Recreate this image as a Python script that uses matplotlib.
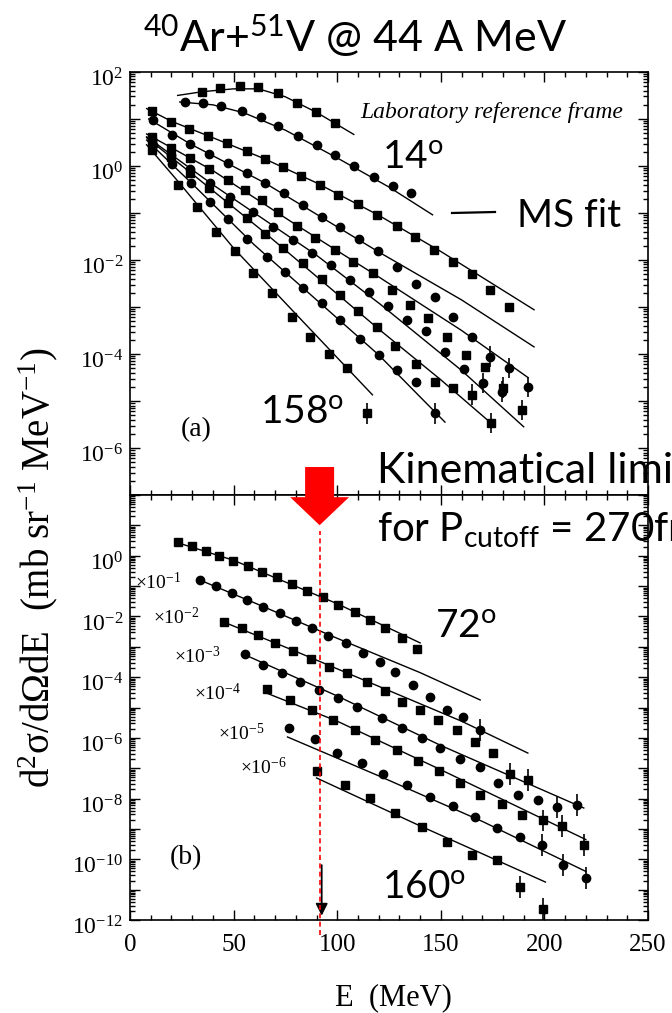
import numpy as np
import matplotlib
matplotlib.use("Agg")
import matplotlib.pyplot as plt
from matplotlib.ticker import LogLocator, MultipleLocator, FuncFormatter, NullFormatter
from matplotlib.patches import Polygon
from matplotlib.lines import Line2D
from matplotlib.transforms import blended_transform_factory, ScaledTranslation

# ---- panel (a): laboratory frame, values are log10(d2sigma/dOmega dE) ----
a1_E = [34.7, 43.4, 53.0, 61.8, 71.4, 80.6, 89.7, 98.9]
a1_y = [1.57, 1.66, 1.70, 1.68, 1.55, 1.34, 1.15, 0.92]
a1_fitE = [23, 35, 50, 62, 75, 90, 108]
a1_fity = [1.50, 1.58, 1.64, 1.64, 1.47, 1.14, 0.67]

a2_E = [26.5, 35.0, 44.0, 54.0, 63.0, 71.4, 81.0, 90.0, 99.0, 108.0, 117.6, 126.8, 135.6]
a2_y = [1.36, 1.34, 1.28, 1.17, 1.04, 0.85, 0.64, 0.45, 0.23, 0.0, -0.23, -0.43, -0.57]
a2_fitE = [24, 40, 55, 75, 100, 125, 146]
a2_fity = [1.36, 1.30, 1.13, 0.76, 0.17, -0.45, -1.04]

a3_E = [10.6, 19.8, 28.5, 37.6, 46.8, 56.5, 65.2, 73.8, 82.5, 91.7, 100.4, 110.0,
        119.2, 128.9, 137.5, 146.7, 155.9, 165.1, 173.7, 182.9]
a3_y = [1.17, 0.94, 0.79, 0.64, 0.49, 0.32, 0.15, -0.02, -0.21, -0.40, -0.62, -0.81,
        -1.04, -1.28, -1.51, -1.79, -2.04, -2.30, -2.64, -3.00]
a3_fitE = [8, 20, 40, 65, 90, 120, 150, 195]
a3_fity = [1.22, 0.95, 0.60, 0.15, -0.36, -1.05, -1.82, -3.06]

a4_E = [11.1, 20.3, 29.0, 38.1, 47.3, 56.5, 65.2, 74.3, 83.5, 92.7, 101.4, 110.5,
        119.7, 128.9, 138.0, 147.2, 155.9, 165.1, 173.7, 182.9, 192.1]
a4_y = [0.98, 0.66, 0.47, 0.26, 0.06, -0.15, -0.36, -0.57, -0.83, -1.09, -1.30, -1.55,
        -1.81, -2.15, -2.51, -2.79, -3.21, -3.64, -4.06, -4.30, -4.70]
a4_fitE = [9, 29, 65, 120, 160, 195]
a4_fity = [1.0, 0.47, -0.36, -1.83, -2.85, -3.85]

a5_E = [10.6, 19.8, 28.9, 38.0, 47.3, 55.5, 63.7, 71.4, 80.6, 89.3, 98.9, 107.6,
        117.3, 126.4, 135.1, 143.8, 153.0, 162.2, 171.3, 180.0, 189.2]
a5_y = [0.62, 0.38, 0.17, -0.06, -0.30, -0.51, -0.72, -0.98, -1.28, -1.53, -1.79, -2.04,
        -2.28, -2.64, -2.96, -3.23, -3.64, -4.02, -4.28, -4.72, -5.19]
a5_fitE = [8, 40, 80, 120, 160, 192]
a5_fity = [0.68, -0.10, -1.25, -2.36, -3.5, -4.5]

a6_E = [10.6, 19.8, 29.0, 38.6, 48.2, 59.4, 69.0, 78.7, 87.8, 97.0, 106.2, 115.3,
        124.5, 133.7, 142.9, 152.0, 161.2, 170.4, 179.5]
a6_y = [0.56, 0.24, -0.06, -0.37, -0.66, -0.99, -1.30, -1.57, -1.85, -2.10, -2.42, -2.68,
        -2.97, -3.28, -3.52, -3.95, -4.33, -4.62, -4.80]
a6_fitE = [8, 40, 90, 121, 160, 190]
a6_fity = [0.62, -0.40, -1.90, -2.95, -4.35, -5.55]

a7_E = [10.6, 19.8, 29.0, 38.1, 47.3, 56.5, 65.2, 73.8, 83.5, 92.7, 101.4, 110.0,
        119.2, 128.0, 138.0, 147.2, 156.0, 165.0, 174.0]
a7_y = [0.52, 0.20, -0.15, -0.47, -0.79, -1.11, -1.45, -1.75, -2.06, -2.40, -2.74, -3.09,
        -3.43, -3.83, -4.21, -4.60, -4.72, -4.87, -5.47]
a7_fitE = [8, 30, 65, 120, 150, 175]
a7_fity = [0.6, -0.17, -1.42, -3.47, -4.55, -5.5]

a8_E = [11.1, 20.3, 29.4, 38.6, 47.3, 56.5, 66.1, 74.8, 83.5, 92.7, 101.4, 111.0,
        120.2, 128.9, 138.0, 147.2]
a8_y = [0.45, 0.05, -0.36, -0.77, -1.13, -1.55, -1.94, -2.26, -2.60, -2.92, -3.28, -3.68,
        -4.02, -4.34, -4.60, -5.26]
a8_fitE = [8, 30, 60, 120, 152]
a8_fity = [0.55, -0.38, -1.68, -4.02, -5.45]

a9_E = [10.6, 23.2, 32.3, 41.5, 50.7, 59.4, 68.5, 78.2, 86.9, 96.0, 104.7, 114.4]
a9_y = [0.34, -0.40, -0.87, -1.40, -1.81, -2.28, -2.70, -3.21, -3.64, -4.00, -4.30, -5.26]
a9_fitE = [8, 23, 50, 80, 117]
a9_fity = [0.45, -0.32, -1.75, -3.15, -4.87]

# ---- panel (b): 72 deg ... 160 deg, scaled by 10^-n ----
b1_E = [23.2, 29.9, 36.7, 43.0, 49.7, 56.9, 63.7, 70.9, 78.2, 85.4, 93.1, 100.4,
        108.6, 115.8, 123.1, 131.3, 138.5]
b1_y = [0.45, 0.32, 0.16, -0.01, -0.17, -0.34, -0.54, -0.70, -0.93, -1.16, -1.36, -1.62,
        -1.85, -2.12, -2.38, -2.71, -3.07]
b1_fitE = [22, 50, 100, 140]
b1_fity = [0.45, -0.15, -1.58, -2.87]

b2_E = [33.8, 41.5, 49.2, 56.5, 64.2, 72.4, 80.1, 87.8, 95.6, 104.2, 112.5, 120.7,
        127.9, 136.6, 144.8, 153.0, 160.7, 168.9]
b2_y = [-0.80, -1.00, -1.23, -1.46, -1.69, -1.89, -2.15, -2.38, -2.64, -2.88, -3.20, -3.50,
        -3.83, -4.26, -4.65, -5.08, -5.31, -5.74]
b2_fitE = [33, 60, 100, 140, 169]
b2_fity = [-0.78, -1.55, -2.72, -3.85, -4.75]

b3_E = [45.4, 54.1, 61.8, 70.0, 78.7, 87.4, 96.0, 104.7, 114.4, 123.1, 131.3, 140.0,
        148.6, 157.8, 166.5, 175.2, 183.4, 192.1]
b3_y = [-2.18, -2.38, -2.61, -2.88, -3.14, -3.40, -3.67, -3.86, -4.16, -4.46, -4.82, -5.08,
        -5.41, -5.74, -6.14, -6.50, -7.19, -7.39]
b3_fitE = [44, 80, 120, 160, 192]
b3_fity = [-2.15, -3.15, -4.30, -5.45, -6.50]

b4_E = [55.5, 64.2, 73.4, 82.0, 91.2, 100.4, 109.6, 121.6, 131.3, 140.9, 149.6, 159.3,
        168.9, 177.6, 187.3, 196.9, 206.1, 215.7]
b4_y = [-3.24, -3.60, -3.86, -4.16, -4.42, -4.69, -4.98, -5.35, -5.68, -6.00, -6.33, -6.70,
        -6.96, -7.49, -7.88, -8.05, -8.28, -8.21]
b4_fitE = [55, 100, 150, 219]
b4_fity = [-3.25, -4.62, -6.25, -8.31]

b5_E = [66.1, 77.2, 87.8, 98.0, 108.6, 118.2, 128.9, 139.0, 149.1, 159.3, 168.9, 179.5,
        189.2, 199.3, 208.5, 219.1]
b5_y = [-4.39, -4.75, -5.08, -5.41, -5.74, -6.07, -6.40, -6.76, -7.09, -7.49, -7.88, -8.18,
        -8.54, -8.71, -8.90, -9.53]
b5_fitE = [65, 100, 150, 220]
b5_fity = [-4.5, -5.45, -7.05, -9.35]

b6_E = [76.7, 89.3, 99.9, 112.0, 122.1, 133.7, 144.8, 155.9, 166.5, 177.1, 188.2, 198.8,
        209.0, 220.1]
b6_y = [-5.68, -6.04, -6.50, -6.83, -7.19, -7.55, -7.95, -8.24, -8.61, -8.97, -9.26, -9.53,
        -10.19, -10.62]
b6_fitE = [76, 120, 170, 220]
b6_fity = [-5.97, -7.25, -8.75, -10.4]

b7_E = [90.3, 103.8, 115.8, 127.9, 140.9, 153.0, 165.1, 177.1, 188.2, 199.3]
b7_y = [-7.09, -7.55, -7.98, -8.47, -8.94, -9.43, -9.86, -10.02, -10.91, -11.64]
b7_fitE = [90, 140, 200.5]
b7_fity = [-7.32, -8.9, -10.75]

top_series = [(a1_E, a1_y, a1_fitE, a1_fity), (a2_E, a2_y, a2_fitE, a2_fity),
              (a3_E, a3_y, a3_fitE, a3_fity), (a4_E, a4_y, a4_fitE, a4_fity),
              (a5_E, a5_y, a5_fitE, a5_fity), (a6_E, a6_y, a6_fitE, a6_fity),
              (a7_E, a7_y, a7_fitE, a7_fity), (a8_E, a8_y, a8_fitE, a8_fity),
              (a9_E, a9_y, a9_fitE, a9_fity)]
top_markers = ['s', 'o', 's', 'o', 's', 'o', 's', 'o', 's']
top_nerr = [0, 0, 0, 3, 2, 2, 2, 1, 1]

bot_series = [(b1_E, b1_y, b1_fitE, b1_fity), (b2_E, b2_y, b2_fitE, b2_fity),
              (b3_E, b3_y, b3_fitE, b3_fity), (b4_E, b4_y, b4_fitE, b4_fity),
              (b5_E, b5_y, b5_fitE, b5_fity), (b6_E, b6_y, b6_fitE, b6_fity),
              (b7_E, b7_y, b7_fitE, b7_fity)]
bot_markers = ['s', 'o', 's', 'o', 's', 'o', 's']
bot_nerr = [0, 1, 2, 2, 3, 3, 2]
scale_labels = ['-1', '-2', '-3', '-4', '-5', '-6']

E_lim = 91.5   # kinematical limit for P_cutoff

SERIF = 'Liberation Serif'
SANS = 'Lato'

fig = plt.figure(figsize=(6.72, 10.13), dpi=100)
ax_a = fig.add_axes([0.1935, 0.5114, 0.7708, 0.4176])
ax_b = fig.add_axes([0.1935, 0.0918, 0.7708, 0.4195])


def make_fmt(top_exp):
    def fmt(v, pos):
        e = int(round(np.log10(v)))
        if e % 2 == 0 and e <= top_exp:
            return r'$\mathregular{10^{%d}}$' % e
        return ''
    return FuncFormatter(fmt)


def draw_panel(ax, series, markers, nerr, dlog):
    for (E, ly, fE, fy), m, n in zip(series, markers, nerr):
        y = 10 ** np.array(ly)
        ax.plot(fE, 10 ** np.array(fy), '-', color='k', lw=1.0)
        ms = 6.3 if m == 's' else 6.0
        ax.plot(E, y, m, color='k', ms=ms, mec='k')
        if n > 0:
            ye = y[-n:]
            ax.errorbar(E[-n:], ye, yerr=[ye * (1 - 10 ** -dlog), ye * (10 ** dlog - 1)],
                        fmt='none', ecolor='k', elinewidth=1.2, capsize=0)


def style_axes(ax, ylim, top_exp):
    ax.set_yscale('log')
    ax.set_xlim(0, 250)
    ax.set_ylim(*ylim)
    ax.yaxis.set_major_locator(LogLocator(base=10, numticks=30))
    ax.yaxis.set_minor_locator(LogLocator(base=10, subs=np.arange(2, 10), numticks=300))
    ax.yaxis.set_major_formatter(make_fmt(top_exp))
    ax.yaxis.set_minor_formatter(NullFormatter())
    ax.xaxis.set_major_locator(MultipleLocator(50))
    ax.xaxis.set_minor_locator(MultipleLocator(10))
    ax.tick_params(which='both', direction='in', top=True, right=True, width=1.0)
    ax.tick_params(which='major', length=7)
    ax.tick_params(which='minor', length=3.5)
    ax.tick_params(axis='y', labelsize=17, pad=5)
    ax.tick_params(axis='x', labelsize=18, pad=10)
    shift = ScaledTranslation(0, -4 / 72, fig.dpi_scale_trans)
    for lab in ax.get_yticklabels():
        lab.set_family(SERIF)
        lab.set_transform(lab.get_transform() + shift)
    for lab in ax.get_xticklabels():
        lab.set_family(SERIF)
    for s in ax.spines.values():
        s.set_linewidth(1.2)


draw_panel(ax_a, top_series, top_markers, top_nerr, 0.22)
draw_panel(ax_b, bot_series, bot_markers, bot_nerr, 0.35)
style_axes(ax_a, (1e-7, 1e2), 2)
style_axes(ax_b, (1e-12, 1e2), 0)
ax_a.tick_params(axis='x', labelbottom=False)

# panel annotations in the original serif font
ax_a.text(0.445, 0.905, 'Laboratory reference frame', transform=ax_a.transAxes,
          family=SERIF, style='italic', fontsize=17, va='center')
ax_a.text(0.097, 0.154, '(a)', transform=ax_a.transAxes, family=SERIF, fontsize=20, va='center')
ax_b.text(0.077, 0.146, '(b)', transform=ax_b.transAxes, family=SERIF, fontsize=20, va='center')

scale_pos = [(0.010, 0.795), (0.044, 0.711), (0.085, 0.619),
             (0.124, 0.534), (0.170, 0.440), (0.212, 0.358)]
for (x, y), s in zip(scale_pos, scale_labels):
    ax_b.text(x, y, r'$\mathregular{\times 10^{%s}}$' % s, transform=ax_b.transAxes,
              family=SERIF, fontsize=14, va='center')

# kinematical limit: red dashed line and block arrow
tb = blended_transform_factory(ax_b.transData, ax_b.transAxes)
ax_b.plot([E_lim, E_lim], [-0.035, 0.915], transform=tb, color='red', lw=1.2,
          dashes=(3, 2), clip_on=False, zorder=5)
shaft, head = 7.0, 14.2
arrow = Polygon([(E_lim - shaft, 1.066), (E_lim + shaft, 1.066), (E_lim + shaft, 0.995),
                 (E_lim + head, 0.995), (E_lim, 0.929), (E_lim - head, 0.995),
                 (E_lim - shaft, 0.995)], closed=True, transform=tb, facecolor='red',
                edgecolor='none', clip_on=False, zorder=10)
ax_b.add_patch(arrow)
ax_b.annotate('', xy=(E_lim + 1, 10 ** -11.95), xytext=(E_lim + 1, 10 ** -10.1),
              arrowprops=dict(arrowstyle='-|>', color='k', lw=1.3, mutation_scale=18))

# axis labels
fig.text(38 / 672, 1 - 568 / 1013,
         r'd$\mathregular{^2}$σ/dΩdE  (mb sr$\mathregular{^{-1}}$ MeV$\mathregular{^{-1}}$)',
         rotation=90, family=SERIF, fontsize=28, ha='center', va='center')
fig.text(393 / 672, 1 - 998 / 1013, 'E  (MeV)', family=SERIF, fontsize=22,
         ha='center', va='center')


# overlay labels in sans
def ftext(x, y, s, size=28, **kw):
    fig.text(x / 672, 1 - y / 1013, s, family=SANS, fontsize=size, va='baseline', **kw)


ftext(355, 52, r'$\mathregular{^{40}}$Ar+$\mathregular{^{51}}$V @ 44 A MeV', size=31, ha='center')
ftext(382, 168, r'14$\mathregular{^{o}}$')
ftext(260, 423, r'158$\mathregular{^{o}}$')
ftext(435, 637, r'72$\mathregular{^{o}}$')
ftext(382, 898, r'160$\mathregular{^{o}}$')
ftext(517, 227, 'MS fit')
ftext(377, 483, 'Kinematical limit', size=31)
ftext(377, 542, r'for P$\mathregular{_{cutoff}}$ = 270fm', size=29)
fig.add_artist(Line2D([452 / 672, 495 / 672], [1 - 213 / 1013, 1 - 212 / 1013],
                      color='k', lw=1.6))

fig.savefig('out.png', dpi=100)
